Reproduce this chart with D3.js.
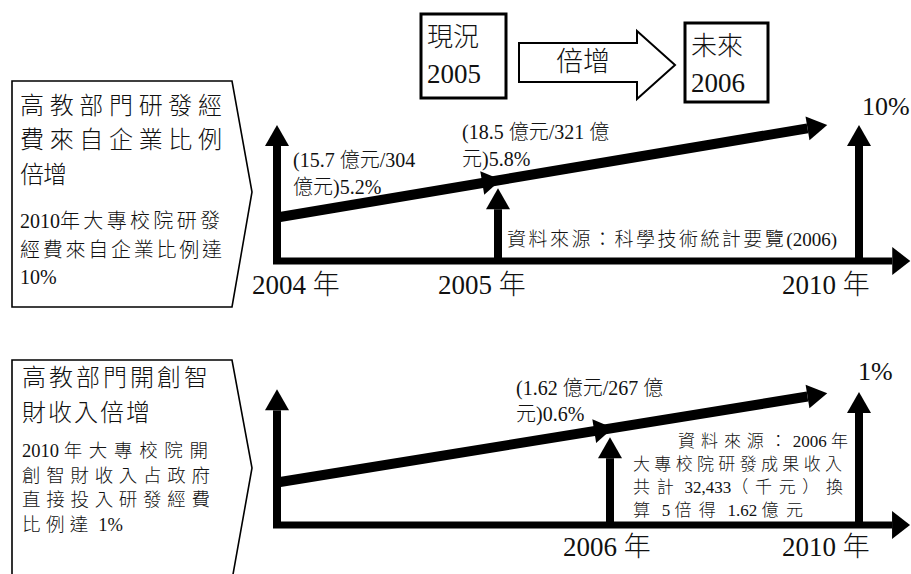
<!DOCTYPE html>
<html><head><meta charset="utf-8">
<script src="https://cdn.jsdelivr.net/npm/d3@7/dist/d3.min.js"></script>
<style>
html,body{margin:0;padding:0;background:#fff;}
text{font-family:"Liberation Serif","Noto Sans CJK TC",serif;fill:#111;}
tspan.cj{font-family:"Noto Sans CJK TC","Liberation Serif",sans-serif;font-weight:300;}
</style></head>
<body>
<svg id="chart" width="911" height="574"></svg>
<script>
// ---------- data ----------
const headerBoxes = [["現況", "2005"], ["未來", "2006"]];
const headerArrowLabel = "倍增";

const topYears = [2004, 2005, 2010];
const topYearLabels = ["2004 年", "2005 年", "2010 年"];
const topArrowTips = [10, 5.35, 10];          // % level reached by each vertical arrow
const topTrend = [{year: 2004, value: 3.2}, {year: 2009.56, value: 10}];
const topAxisEnd = 2010.71;
const topGoalLabel = "10%";
const topNotes = [
  ["(15.7 億元/304", "億元)5.2%"],
  ["(18.5 億元/321 億", "元)5.8%"]
];
const topSource = "資料來源：科學技術統計要覽(2006)";
const topTitle = ["高教部門研發經", "費來自企業比例", "倍增"];
const topDesc = ["2010年大專校院研發", "經費來自企業比例達", "10%"];

const botYears = [2005, 2006, 2010];
const botYearLabels = ["", "2006 年", "2010 年"];
const botArrowTips = [1.02, 0.66, 1.0];
const botTrend = [{year: 2005, value: 0.32}, {year: 2009.49, value: 0.99}];
const botAxisEnd = 2010.82;
const botGoalLabel = "1%";
const botNotes = [["(1.62 億元/267 億", "元)0.6%"]];
const botSource = ["資料來源：2006 年", "大專校院研發成果收入", "共計 32,433（千元）換", "算 5 倍得 1.62 億元"];
const botTitle = ["高教部門開創智", "財收入倍增"];
const botDesc = ["2010 年大專校院開", "創智財收入占政府", "直接投入研發經費", "比例達 1%"];

// ---------- drawing ----------
const svg = d3.select("#chart");
svg.append("rect").attr("width", 911).attr("height", 574).attr("fill", "#fff");

const CJK = /[\u3000-\u9fff\uff00-\uffef]/;
const RUNS = /[\u3000-\u9fff\uff00-\uffef]+|[^\u3000-\u9fff\uff00-\uffef]+/g;

function head(g, tip, dir, len, halfW) {
  const L = Math.hypot(dir[0], dir[1]);
  const u = [dir[0] / L, dir[1] / L], n = [-u[1], u[0]];
  const b = [tip[0] - u[0] * len, tip[1] - u[1] * len];
  g.append("path")
    .attr("d", d3.line()([tip, [b[0] + n[0] * halfW, b[1] + n[1] * halfW], [b[0] - n[0] * halfW, b[1] - n[1] * halfW]]) + "Z")
    .attr("fill", "#000");
  return b;
}
function arrow(g, from, tip, width, len, halfW) {
  const b = head(g, tip, [tip[0] - from[0], tip[1] - from[1]], len, halfW);
  g.append("line").attr("x1", from[0]).attr("y1", from[1]).attr("x2", b[0]).attr("y2", b[1])
    .attr("stroke", "#000").attr("stroke-width", width);
}
// text with CJK runs in their own tspans; optional target width spreads only the CJK runs
function txt(g, s, x, y, size, target, anchor) {
  const t = g.append("text").attr("x", x).attr("y", y).attr("font-size", size);
  if (anchor) t.attr("text-anchor", anchor);
  s.match(RUNS).forEach(r => {
    t.append("tspan").attr("class", CJK.test(r) ? "cj" : "la").text(r);
  });
  if (target) {
    const w = t.node().getComputedTextLength();
    const chars = Array.from(s);
    let n = chars.filter(c => CJK.test(c)).length;
    if (CJK.test(chars[chars.length - 1])) n -= 1;
    if (n > 0) t.selectAll("tspan.cj").style("letter-spacing", ((target - w) / n) + "px");
  }
  return t;
}

// header boxes
const hb = svg.append("g");
const boxGeom = [{x: 421, y: 14, w: 85, h: 84}, {x: 685, y: 23, w: 83, h: 79}];
headerBoxes.forEach((lines, i) => {
  const b = boxGeom[i];
  hb.append("rect").attr("x", b.x).attr("y", b.y).attr("width", b.w).attr("height", b.h)
    .attr("fill", "none").attr("stroke", "#000").attr("stroke-width", 3);
  txt(hb, lines[0], b.x + 6, b.y + 32, 26);
  txt(hb, lines[1], b.x + 6, b.y + 69, 27);
});
hb.append("path")
  .attr("d", d3.line()([[519, 43], [637, 43], [637, 31], [675, 65], [637, 99], [637, 82], [519, 82]]) + "Z")
  .attr("fill", "#fff").attr("stroke", "#000").attr("stroke-width", 2);
txt(hb, headerArrowLabel, 583, 71, 27, null, "middle");

// pentagons
function pentagon(top, bottom, mid) {
  svg.append("path")
    .attr("d", d3.line()([[12, bottom], [12, top], [232, top], [252, mid], [232, bottom]]) + (bottom < 574 ? "Z" : ""))
    .attr("fill", "none").attr("stroke", "#000").attr("stroke-width", 1.6);
}
pentagon(81, 307, 192);
pentagon(360, 580, 468);

const pt = svg.append("g");
txt(pt, topTitle[0], 20, 114, 24, 202);
txt(pt, topTitle[1], 20, 148, 24, 202);
txt(pt, topTitle[2], 20, 183, 24, 47);
txt(pt, topDesc[0], 20, 228, 20, 200);
txt(pt, topDesc[1], 20, 257, 20, 202);
txt(pt, topDesc[2], 20, 284, 20);

txt(pt, botTitle[0], 22, 386, 24, 186);
txt(pt, botTitle[1], 22, 421, 24, 128);
txt(pt, botDesc[0], 22, 457, 18.5, 186);
txt(pt, botDesc[1], 22, 482, 18.5, 188);
txt(pt, botDesc[2], 22, 506, 18.5, 188);
txt(pt, botDesc[3], 22, 531, 18.5, 101);

// timeline panel
function panel(cfg) {
  const g = svg.append("g");
  const x = d3.scaleLinear().domain(cfg.years).range(cfg.xRange);
  const y = d3.scaleLinear().domain(cfg.yDomain).range(cfg.yRange);
  const y0 = y(0);
  arrow(g, [x(cfg.years[0]) - 4, y0], [x(cfg.axisEnd), y0], 7, 18, 14);
  cfg.years.forEach((yr, i) => {
    arrow(g, [x(yr), y0 + 3], [x(yr), y(cfg.tips[i])], 8, 21, 12);
  });
  const p0 = [x(cfg.trend[0].year), y(cfg.trend[0].value)];
  const p1 = [x(cfg.trend[1].year), y(cfg.trend[1].value)];
  arrow(g, p0, p1, 10, 20, 12);
  const xm = x(cfg.years[1]);
  const tm = (xm - p0[0]) / (p1[0] - p0[0]);
  const pm = [p0[0] + tm * (p1[0] - p0[0]) + 3, p0[1] + tm * (p1[1] - p0[1]) - 0.5];
  head(g, pm, [p1[0] - p0[0], p1[1] - p0[1]], 19, 12);
  cfg.labels.forEach((l, i) => { if (l) txt(g, l, cfg.labelX[i], cfg.labelY, 27); });
  txt(g, cfg.goal, cfg.goalX, cfg.goalY, 26);
  return g;
}

const gTop = panel({years: topYears, xRange: [277, 498, 859], yDomain: [0, 10], yRange: [261, 125],
  tips: topArrowTips, trend: topTrend, axisEnd: topAxisEnd, labels: topYearLabels,
  labelX: [252, 438, 782], labelY: 294, goal: topGoalLabel, goalX: 862, goalY: 115});
txt(gTop, topNotes[0][0], 293, 167, 20);
txt(gTop, topNotes[0][1], 293, 194, 20);
txt(gTop, topNotes[1][0], 462, 139, 20);
txt(gTop, topNotes[1][1], 462, 166, 20);
txt(gTop, topSource, 507, 246, 19, 330);

const gBot = panel({years: botYears, xRange: [277, 610, 859], yDomain: [0, 1], yRange: [525, 392],
  tips: botArrowTips, trend: botTrend, axisEnd: botAxisEnd, labels: botYearLabels,
  labelX: [0, 563, 782], labelY: 556, goal: botGoalLabel, goalX: 858, goalY: 380});
txt(gBot, botNotes[0][0], 516, 395, 20);
txt(gBot, botNotes[0][1], 516, 421, 20);
txt(gBot, botSource[0], 678, 447, 17, 170);
txt(gBot, botSource[1], 633, 470, 17, 209);
txt(gBot, botSource[2], 633, 493, 17, 210);
txt(gBot, botSource[3], 633, 516, 17, 170);
</script>
</body></html>
